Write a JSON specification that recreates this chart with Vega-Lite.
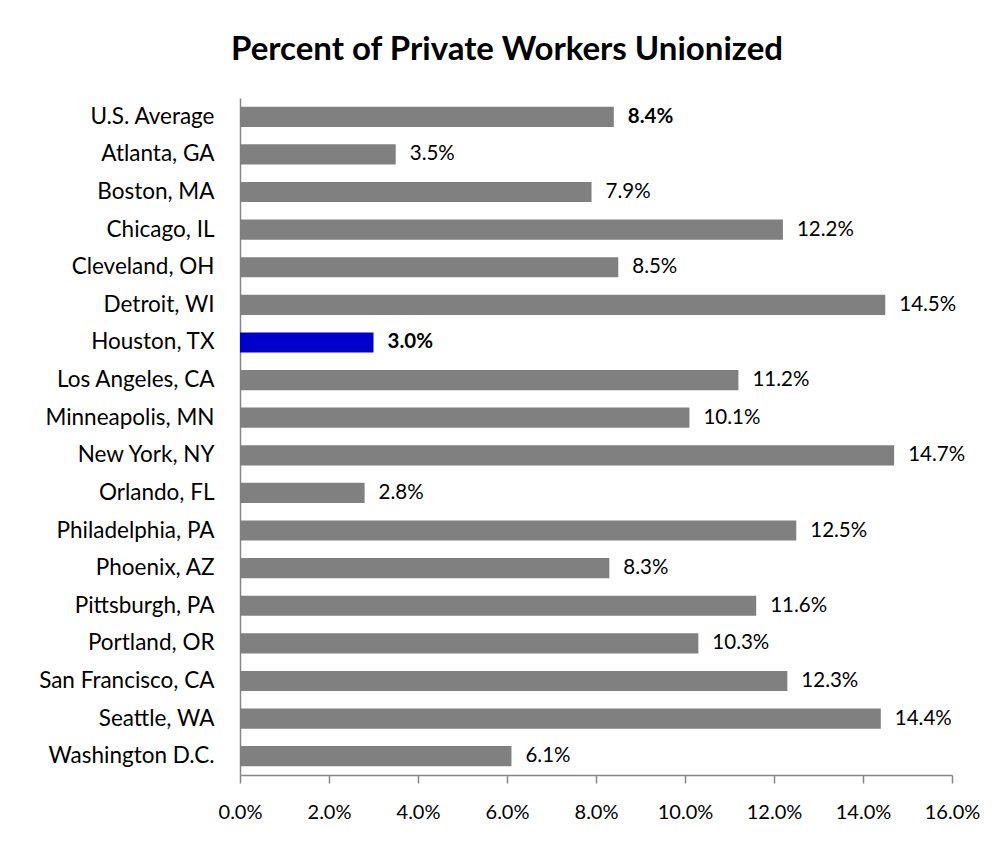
{
  "$schema": "https://vega.github.io/schema/vega-lite/v6.json",
  "autosize": {"type": "none"},
  "padding": {"left": 240, "top": 98, "right": 43, "bottom": 70},
  "width": 712,
  "height": 677,
  "background": "white",
  "title": {
    "text": "Percent of Private Workers Unionized",
    "font": "Lato",
    "fontSize": 33,
    "fontWeight": "bold",
    "color": "black",
    "anchor": "middle",
    "frame": "group",
    "dx": -89,
    "offset": 31
  },
  "data": {
    "values": [
      {"city": "U.S. Average", "pct": 0.084},
      {"city": "Atlanta, GA", "pct": 0.035},
      {"city": "Boston, MA", "pct": 0.079},
      {"city": "Chicago, IL", "pct": 0.122},
      {"city": "Cleveland, OH", "pct": 0.085},
      {"city": "Detroit, WI", "pct": 0.145},
      {"city": "Houston, TX", "pct": 0.030},
      {"city": "Los Angeles, CA", "pct": 0.112},
      {"city": "Minneapolis, MN", "pct": 0.101},
      {"city": "New York, NY", "pct": 0.147},
      {"city": "Orlando, FL", "pct": 0.028},
      {"city": "Philadelphia, PA", "pct": 0.125},
      {"city": "Phoenix, AZ", "pct": 0.083},
      {"city": "Pittsburgh, PA", "pct": 0.116},
      {"city": "Portland, OR", "pct": 0.103},
      {"city": "San Francisco, CA", "pct": 0.123},
      {"city": "Seattle, WA", "pct": 0.144},
      {"city": "Washington D.C.", "pct": 0.061}
    ]
  },
  "encoding": {
    "y": {
      "field": "city",
      "type": "nominal",
      "sort": null,
      "scale": {"paddingInner": 0.464, "paddingOuter": 0.232},
      "axis": {
        "title": null,
        "ticks": false,
        "labelPadding": 26,
        "labelFont": "Lato",
        "labelFontSize": 22.5,
        "labelColor": "black",
        "domainColor": "#868686",
        "domainWidth": 1.5,
        "grid": false
      }
    },
    "x": {
      "field": "pct",
      "type": "quantitative",
      "scale": {"domain": [0, 0.16], "nice": false},
      "axis": {
        "title": null,
        "format": ".1%",
        "values": [0, 0.02, 0.04, 0.06, 0.08, 0.1, 0.12, 0.14, 0.16],
        "tickSize": 8,
        "tickColor": "#868686",
        "tickWidth": 1.5,
        "domainColor": "#868686",
        "domainWidth": 1.5,
        "labelPadding": 19,
        "labelFont": "Lato",
        "labelFontSize": 20,
        "labelColor": "black",
        "labelFlush": false,
        "labelBound": false,
        "labelOverlap": false,
        "grid": false
      }
    }
  },
  "layer": [
    {
      "mark": {"type": "bar"},
      "encoding": {
        "color": {
          "condition": {"test": "datum.city === 'Houston, TX'", "value": "#0000CC"},
          "value": "#808080"
        }
      }
    },
    {
      "transform": [{"filter": "datum.city !== 'Houston, TX' && datum.city !== 'U.S. Average'"}],
      "mark": {"type": "text", "align": "left", "baseline": "middle", "dx": 14, "font": "Lato", "fontSize": 20.5, "color": "black"},
      "encoding": {"text": {"field": "pct", "type": "quantitative", "format": ".1%"}}
    },
    {
      "transform": [{"filter": "datum.city === 'Houston, TX' || datum.city === 'U.S. Average'"}],
      "mark": {"type": "text", "align": "left", "baseline": "middle", "dx": 14, "font": "Lato", "fontSize": 20.5, "fontWeight": "bold", "color": "black"},
      "encoding": {"text": {"field": "pct", "type": "quantitative", "format": ".1%"}}
    }
  ],
  "config": {"view": {"stroke": null}}
}
